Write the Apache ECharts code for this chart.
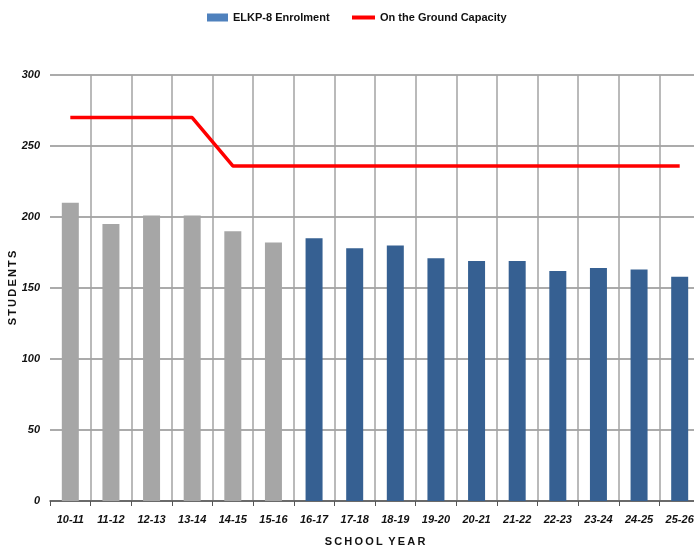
<!DOCTYPE html>
<html><head><meta charset="utf-8">
<script src="https://cdn.jsdelivr.net/npm/echarts@6/dist/echarts.min.js"></script>
<style>html,body{margin:0;padding:0;background:#fff}#c{width:694px;height:550px}</style>
</head><body><div id="c"></div>
<script>
const categories = ['10-11','11-12','12-13','13-14','14-15','15-16','16-17','17-18','18-19','19-20','20-21','21-22','22-23','23-24','24-25','25-26'];
const enrolment = [210,195,201,201,190,182,185,178,180,171,169,169,162,164,163,158];
const capacity = [270,270,270,270,236,236,236,236,236,236,236,236,236,236,236,236];
const historicalCount = 6;
const yTicks = [0,50,100,150,200,250,300];

const chart = echarts.init(document.getElementById('c'));
const legendText = {fontFamily: '"Liberation Sans",Arial,sans-serif', fontWeight: 'bold', fontSize: 11, color: '#111'};
chart.setOption({
  animation: false,
  legend: [
    {top: 7, left: 202, itemWidth: 21, itemHeight: 8, itemGap: 3, textStyle: legendText,
     data: [{name: 'ELKP-8 Enrolment', icon: 'rect'}]},
    {top: 7, left: 347, itemWidth: 23, itemHeight: 4, itemGap: 3, textStyle: legendText,
     data: [{name: 'On the Ground Capacity', icon: 'rect'}]}
  ],
  grid: {left: 50, right: -6, top: 75, bottom: 49, outerBoundsMode: 'none', containLabel: false},
  xAxis: {
    type: 'category', data: categories,
    name: 'S\u2009C\u2009H\u2009O\u2009O\u2009L\u2002Y\u2009E\u2009A\u2009R',
    nameLocation: 'middle', nameGap: 35,
    nameTextStyle: {fontFamily: 'Liberation Sans, Arial', fontWeight: 'bold', fontSize: 11, color: '#111'},
    axisLine: {lineStyle: {color: '#555', width: 1.5}},
    axisTick: {show: true, length: 5, lineStyle: {color: '#555'}},
    axisLabel: {fontFamily: 'Liberation Sans, Arial', fontStyle: 'italic', fontWeight: 'bold', fontSize: 11, color: '#111', margin: 13, interval: 0},
    splitLine: {show: true, showMinLine: false, lineStyle: {color: '#a3a3a3', width: 1.5}}
  },
  yAxis: {
    type: 'value', min: yTicks[0], max: yTicks[yTicks.length-1], interval: 50,
    name: 'S\u2009T\u2009U\u2009D\u2009E\u2009N\u2009T\u2009S',
    nameLocation: 'middle', nameGap: 32, nameRotate: 90, nameMoveOverlap: false,
    nameTextStyle: {fontFamily: 'Liberation Sans, Arial', fontWeight: 'bold', fontSize: 11, color: '#111'},
    axisLine: {show: false}, axisTick: {show: false},
    axisLabel: {fontFamily: 'Liberation Sans, Arial', fontStyle: 'italic', fontWeight: 'bold', fontSize: 11, color: '#111', margin: 10},
    splitLine: {lineStyle: {color: '#8f8f8f', width: 1.5}}
  },
  series: [
    {
      name: 'ELKP-8 Enrolment', type: 'bar', barWidth: 17,
      itemStyle: {color: '#4F81BD'},
      data: enrolment.map((v, i) => ({value: v, itemStyle: {color: i < historicalCount ? '#a6a6a6' : '#366092'}}))
    },
    {
      name: 'On the Ground Capacity', type: 'line', symbol: 'none',
      lineStyle: {color: '#ff0000', width: 3.5}, itemStyle: {color: '#ff0000'},
      data: capacity
    }
  ]
});
</script></body></html>
